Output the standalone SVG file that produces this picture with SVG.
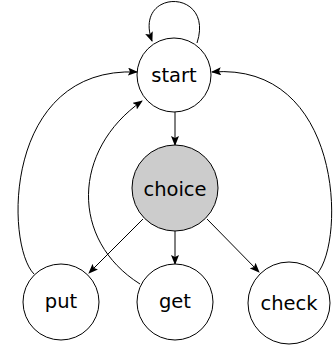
<svg xmlns="http://www.w3.org/2000/svg" width="333" height="350" viewBox="0 0 333 350">
<style>
.n{fill:#fff;stroke:#000;stroke-width:1}
.g{fill:#cccccc;stroke:#000;stroke-width:1}
.t{font-family:"DejaVu Sans",sans-serif;font-size:19.5px;text-anchor:middle;fill:#000}
.e{fill:none;stroke:#000;stroke-width:1;marker-end:url(#a)}
</style>
<defs>
<marker id="a" markerWidth="10" markerHeight="8" refX="9" refY="4" orient="auto" markerUnits="userSpaceOnUse">
<path d="M0,0 L10,4 L0,8 L2,4 Z" fill="#000"/>
</marker>
</defs>
<g id="edges">
<path class="e" d="M197,43 C215,-12 133,-12 152,41"/>
<path class="e" d="M175,112 L175,145"/>
<path class="e" d="M143,219 L89,273"/>
<path class="e" d="M175,231 L175,264"/>
<path class="e" d="M207,219 L259,272"/>
<path class="e" d="M34,274 C5,245 3,66 137,72"/>
<path class="e" d="M140,284 C70,240 72,150 142,101"/>
<path class="e" d="M317,274 C346,240 342,62 212,72"/>
</g>
<g id="start"><circle class="n" cx="174" cy="75" r="37"/><text class="t" x="174" y="82">start</text></g>
<g id="choice"><circle class="g" cx="175" cy="188" r="43"/><text class="t" x="175" y="196">choice</text></g>
<g id="put"><circle class="n" cx="61" cy="302" r="38"/><text class="t" x="61" y="308">put</text></g>
<g id="get"><circle class="n" cx="175" cy="302" r="38"/><text class="t" x="175" y="308">get</text></g>
<g id="check"><circle class="n" cx="289" cy="303" r="41"/><text class="t" x="289" y="310">check</text></g>
</svg>
